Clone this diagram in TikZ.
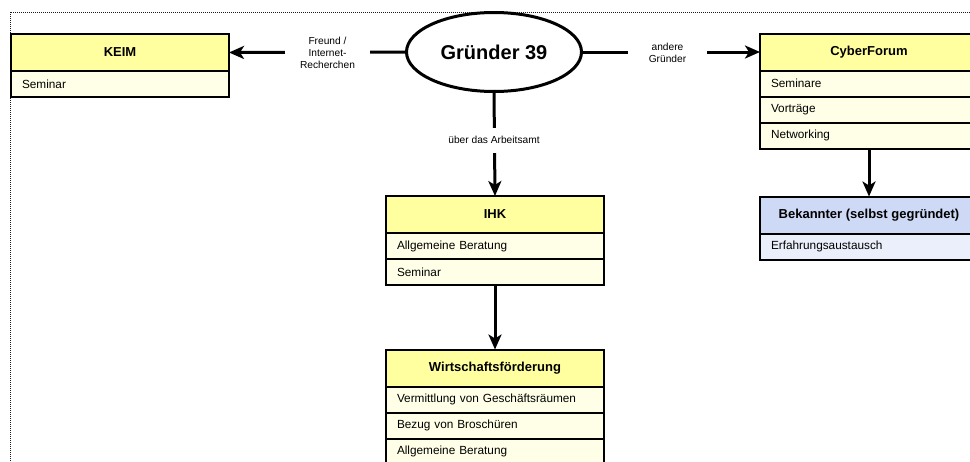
\documentclass[tikz,border=0pt]{standalone}
\usepackage{fontspec}
\setmainfont{Liberation Sans}
\usetikzlibrary{shapes.geometric,arrows.meta,positioning}
\definecolor{headyellow}{RGB}{255,255,160}
\definecolor{rowyellow}{RGB}{255,255,232}
\definecolor{headblue}{RGB}{205,217,245}
\definecolor{rowblue}{RGB}{234,239,251}

\begin{document}
\begin{tikzpicture}[x=1pt,y=-1pt,
  head/.style={rectangle, draw=black, line width=2pt, fill=headyellow, text centered,
               minimum width=218pt, minimum height=37pt, inner sep=0pt, outer sep=0pt,
               font=\fontsize{13}{15}\selectfont\bfseries},
  item/.style={rectangle, draw=black, line width=2pt, fill=rowyellow, align=left,
               text width=196pt, inner xsep=11pt, inner ysep=0pt, outer sep=0pt,
               minimum height=26pt, font=\fontsize{11.8}{13}\selectfont},
  bhead/.style={head, fill=headblue},
  bitem/.style={item, fill=rowblue},
  founder/.style={ellipse, draw=black, line width=3pt, fill=white, inner sep=0pt, outer sep=0pt,
                  minimum width=175pt, minimum height=79pt, font=\fontsize{20}{24}\selectfont\bfseries},
  arr/.style={-{Stealth[length=15pt,width=13pt,inset=4pt]}, line width=3pt, black},
  lbl/.style={fill=white, inner sep=0pt, align=center, font=\fontsize{10.2}{12}\selectfont},
  frame/.style={draw=black!90, line width=1pt, dash pattern=on 1pt off 1pt},
  node distance=0pt
]
\useasboundingbox (0,0) rectangle (970,461);
\clip (0,0) rectangle (970,461);
\draw[frame] (10,12) rectangle (1000,490);

\node[founder](gr) at (494,52){Gründer 39};

\node[head](keim) at (120,52.5){KEIM};
\node[item,below=of keim](keim1){Seminar};

\node[head](cyber) at (869,52){CyberForum};
\node[item,below=of cyber](cyber1){Seminare};
\node[item,below=of cyber1](cyber2){Vorträge};
\node[item,below=of cyber2](cyber3){Networking};

\node[bhead](bek) at (869,215){Bekannter (selbst gegründet)};
\node[bitem,below=of bek](bek1){Erfahrungsaustausch};

\node[head](ihk) at (495,214.5){IHK};
\node[item,below=of ihk](ihk1){Allgemeine Beratung};
\node[item,below=of ihk1](ihk2){Seminar};

\node[head](wifoe) at (495,368){Wirtschaftsförderung};
\node[item,below=of wifoe](wifoe1){Vermittlung von Geschäftsräumen};
\node[item,below=of wifoe1](wifoe2){Bezug von Broschüren};
\node[item,below=of wifoe2](wifoe3){Allgemeine Beratung};

\draw[arr](gr.west)--(keim.east);
\draw[arr](gr.east)--(cyber.west);
\draw[arr](gr.south)--(ihk.north);
\draw[arr](ihk2.south)--(wifoe.north);
\draw[arr](cyber3.south)--(bek.north);

\node[lbl,minimum width=85pt,minimum height=40pt](viafriend) at (327.5,53){Freund /\\Internet-\\Recherchen};
\node[lbl,minimum width=79pt,minimum height=30pt](viaothers) at (667.5,53){andere\\Gründer};
\node[lbl,minimum width=104pt,minimum height=25pt](viaoffice) at (494,140){über das Arbeitsamt};
\end{tikzpicture}
\end{document}
